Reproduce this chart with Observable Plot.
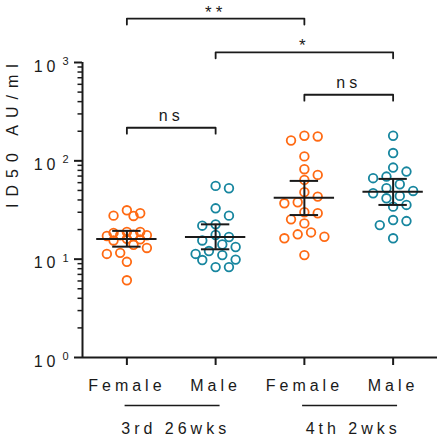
<!DOCTYPE html>
<html><head><meta charset="utf-8">
<script src="https://cdn.jsdelivr.net/npm/d3@7"></script>
<script src="https://cdn.jsdelivr.net/npm/@observablehq/plot@0.6"></script>
<style>html,body{margin:0;padding:0;background:#fff;}</style>
</head><body><div id="chart"></div>
<script>
// ---- data ----
const sexLabels = ["Female", "Male", "Female", "Male"];
const timepoints = ["3rd 26wks", "4th 2wks"];
const yTitle = "ID50 AU/ml";
const female3rd = [31.4, 29.3, 27.7, 27.5, 18.9, 18.9, 18.5, 17.7, 17.5, 17.5, 17.2, 16.1, 15.9, 15.5, 14.0, 13.0, 11.6, 11.3, 9.4, 6.1];
const male3rd = [55.6, 52.6, 32.9, 27.7, 22.6, 21.9, 17.6, 16.8, 15.5, 14.1, 13.3, 12.1, 11.3, 11.0, 9.9, 9.8, 8.3, 8.3];
const female4th = [180, 177, 161, 111, 82.2, 71.9, 64.0, 48.0, 43.3, 37.9, 37.0, 30.0, 29.3, 25.4, 23.1, 18.7, 17.9, 16.9, 16.3, 11.0];
const male4th = [180, 120, 85.4, 77.8, 69.2, 66.6, 57.8, 52.6, 49.4, 46.8, 44.0, 41.6, 35.6, 34.2, 25.0, 24.4, 22.2, 16.3];
const geoMean = [16.0, 16.8, 42.2, 48.6];
const ciLow = [13.4, 12.6, 28.1, 35.6];
const ciHigh = [19.4, 22.6, 62.5, 65.5];
const yTicks = [1, 10, 100, 1000];
const yExponents = ["0", "1", "2", "3"];
const compFrom = [0, 1, 2, 0];
const compTo = [2, 3, 3, 1];
const compLabel = ["**", "*", "ns", "ns"];
const compLevel = [2800, 1270, 470, 217];

// ---- layout ----
const W = 440, H = 438, mT = 62, mB = 81, mL = 82, mR = 3;
const orange = "#ff6a13", teal = "#17869f", ink = "#1a1a1a";
const yDomain = [1, 1000];
const xDomain = [-0.5, 3.5];
const yScale = Plot.scale({y: {type: "log", domain: yDomain, range: [H - mB, mT]}});
const pxPerUnit = (W - mL - mR) / (xDomain[1] - xDomain[0]);

// simple beeswarm (computed, not typed)
function swarm(values) {
  const step = 6.67, T = 10.5, maxK = 3;
  const cands = [0];
  for (let k = 1; k <= maxK; k++) cands.push(k, -k);
  const order = values.map((v, i) => i).sort((a, b) => values[b] - values[a]);
  const placed = [], off = new Array(values.length);
  for (const i of order) {
    const py = yScale.apply(values[i]);
    let best = 0, bestD = -1;
    for (const k of cands) {
      const px = k * step;
      let dmin = Infinity;
      for (const p of placed) dmin = Math.min(dmin, Math.hypot(p.x - px, p.y - py));
      if (dmin >= T) { best = px; break; }
      if (dmin > bestD) { bestD = dmin; best = px; }
    }
    placed.push({x: best, y: py});
    off[i] = best / pxPerUnit;
  }
  return off;
}

const series = [female3rd, male3rd, female4th, male4th];
const points = [];
series.forEach((vals, g) => {
  const off = swarm(vals);
  vals.forEach((v, i) => points.push({g, v, x: g + off[i], female: g % 2 === 0}));
});
const groupIdx = [0, 1, 2, 3];
const minorTicks = [];
for (const d of [1, 10, 100]) for (let m = 2; m <= 9; m++) minorTicks.push(d * m);

const bracketPts = [];
compFrom.forEach((a, i) => {
  const b = compTo[i], lv = compLevel[i], leg = lv / 1.15;
  bracketPts.push({id: i, x: a, y: leg}, {id: i, x: a, y: lv}, {id: i, x: b, y: lv}, {id: i, x: b, y: leg});
});
const comps = compFrom.map((a, i) => ({x: (a + compTo[i]) / 2, y: compLevel[i], label: compLabel[i]}));

const chart = Plot.plot({
  width: W, height: H,
  marginTop: mT, marginBottom: mB, marginLeft: mL, marginRight: mR,
  style: "font-family: 'Liberation Sans', Arial, Helvetica, sans-serif; font-size: 16px; letter-spacing: 4px; color: #1a1a1a; background: #fff; overflow: visible;",
  x: {domain: xDomain},
  y: {type: "log", domain: yDomain},
  marks: [
    Plot.axisY({ticks: yTicks, tickSize: 8, tickFormat: () => "", strokeWidth: 2, label: null}),
    Plot.axisY({ticks: minorTicks, tickSize: 4.5, tickFormat: () => "", strokeWidth: 1.5, label: null}),
    Plot.axisX({ticks: groupIdx, tickSize: 8, tickPadding: 14, tickFormat: i => sexLabels[i], strokeWidth: 2, label: null}),
    Plot.ruleX([xDomain[0]], {stroke: ink, strokeWidth: 2}),
    Plot.ruleY([yDomain[0]], {stroke: ink, strokeWidth: 2}),
    Plot.dot(points.filter(d => d.female), {x: "x", y: "v", r: 4.3, stroke: orange, strokeWidth: 1.8, fill: "none"}),
    Plot.dot(points.filter(d => !d.female), {x: "x", y: "v", r: 4.3, stroke: teal, strokeWidth: 1.8, fill: "none"}),
    Plot.ruleY(groupIdx, {y: i => geoMean[i], x1: i => i - 0.34, x2: i => i + 0.34, stroke: ink, strokeWidth: 2}),
    Plot.ruleY(groupIdx, {y: i => ciLow[i], x1: i => i - 0.16, x2: i => i + 0.16, stroke: ink, strokeWidth: 2}),
    Plot.ruleY(groupIdx, {y: i => ciHigh[i], x1: i => i - 0.16, x2: i => i + 0.16, stroke: ink, strokeWidth: 2}),
    Plot.ruleX(groupIdx, {x: i => i, y1: i => ciLow[i], y2: i => ciHigh[i], stroke: ink, strokeWidth: 2}),
    Plot.line(bracketPts, {x: "x", y: "y", z: "id", stroke: ink, strokeWidth: 1.8}),
    Plot.text(comps.filter(d => d.label === "ns"), {x: "x", y: "y", text: "label", lineAnchor: "bottom", dy: -7, fontSize: 16}),
    Plot.text(comps.filter(d => d.label !== "ns"), {x: "x", y: "y", text: "label", lineAnchor: "bottom", dy: -1, fontSize: 17}),
    Plot.text(yTicks, {y: d => d, text: () => "10", frameAnchor: "left", textAnchor: "end", dx: -23, dy: 4, fontSize: 16}),
    Plot.text(yTicks, {y: d => d, text: (d, i) => yExponents[i], frameAnchor: "left", textAnchor: "start", dx: -20, dy: -1, fontSize: 11}),
    Plot.text([yTitle], {frameAnchor: "left", rotate: -90, dx: -70, dy: -2, fontSize: 16}),
    Plot.ruleY(timepoints, {y: () => yDomain[0], x1: (d, i) => 2 * i - 0.02, x2: (d, i) => 2 * i + 1.05, dy: 48, stroke: ink, strokeWidth: 1.5}),
    Plot.text(timepoints, {x: (d, i) => 2 * i + 0.55, frameAnchor: "bottom", lineAnchor: "bottom", dy: 76, fontSize: 16})
  ]
});
// widen the spacing of the rotated y title, as in the reference
chart.querySelectorAll("text").forEach(t => {
  if (t.textContent === yTitle) t.style.letterSpacing = "7px";
});
document.getElementById("chart").appendChild(chart);
</script>
</body></html>
